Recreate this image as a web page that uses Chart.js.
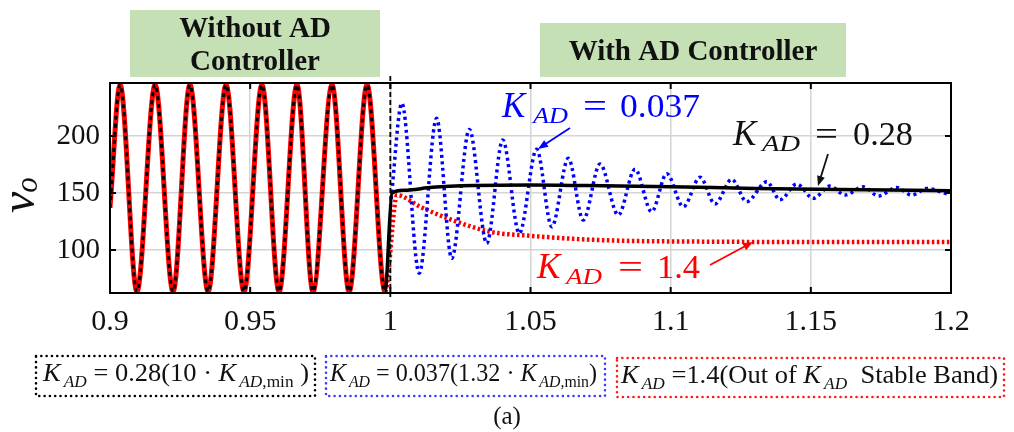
<!DOCTYPE html>
<html><head><meta charset="utf-8">
<script src="https://cdn.jsdelivr.net/npm/chart.js@4.4.1/dist/chart.umd.min.js"></script>
<style>html,body{margin:0;padding:0;background:#fff}canvas{display:block}</style>
</head><body>
<canvas id="c" width="1014" height="432"></canvas>
<script>
// ---------------- data ----------------
const xTicks = [0.9, 0.95, 1.0, 1.05, 1.1, 1.15, 1.2];
const xTickLabels = ['0.9', '0.95', '1', '1.05', '1.1', '1.15', '1.2'];
const yTicks = [100, 150, 200];
const yTickLabels = ['100', '150', '200'];
const switchTime = 1.0;

// common response before the AD controller is switched on (peaks / troughs)
const tPre = [0.9000, 0.9036, 0.9096, 0.9161, 0.9225, 0.9285, 0.9350, 0.9414, 0.9478, 0.9542, 0.9603, 0.9667, 0.9724, 0.9792, 0.9853, 0.9917, 0.9981];
const vPre = [137, 245, 63.5, 245, 63.5, 245, 63.5, 245, 63.5, 245, 63.5, 245, 63.5, 245, 63.5, 245, 63.5];

// K_AD = 0.28 (black)
const tBlackPost = [1.0006, 1.005, 1.015, 1.03, 1.05, 1.07, 1.1, 1.13, 1.16, 1.2];
const vBlackPost = [150, 152.5, 155, 156.5, 157, 156.5, 155.5, 154, 153, 152];

// K_AD = 1.4 (red)
const tRedPost = [1.0024, 1.0106, 1.0202, 1.0356, 1.0498, 1.0677, 1.085, 1.1033, 1.15, 1.2];
const vRedPost = [148, 138, 128, 116, 112.5, 109.5, 108, 107.5, 107, 107];

// K_AD = 0.037 (blue)
const tBluePost = [1.0003, 1.0041, 1.0103, 1.0165, 1.0219, 1.0282, 1.0344, 1.0401, 1.0460, 1.0522, 1.0576, 1.0635, 1.0688, 1.0748, 1.0813, 1.0873, 1.0932, 1.0986, 1.1045, 1.1105, 1.1158, 1.1218, 1.1271, 1.1343, 1.1390, 1.1450, 1.1509, 1.1568, 1.1622, 1.1687, 1.1741, 1.1806, 1.1860, 1.1913, 1.1990];
const vBluePost = [145, 228.7, 79.6, 215.5, 92.7, 205.8, 105.9, 196.5, 114.6, 188.3, 120.4, 180.4, 126.3, 175.4, 130.7, 170.8, 133.6, 167, 137.9, 163.8, 140.4, 162, 142.4, 159.9, 144, 157.9, 145.3, 156.1, 148.2, 155.5, 147.4, 154.9, 148.2, 153.9, 149];

const seriesNames = ['K_AD = 0.28', 'K_AD = 0.037', 'K_AD = 1.4'];
const seriesColors = ['#000000', '#0000ff', '#ff0000'];

// ---------------- helpers ----------------
const zip = (ts, vs) => ts.map((t, i) => ({ x: t, y: vs[i] }));
const FAM = '"Liberation Serif", "Times New Roman", serif';
function fnt(size, italic, bold) { return (bold ? 'bold ' : '') + (italic ? 'italic ' : '') + size + 'px ' + FAM; }

function piece(ctx, txt, x, y, size, italic, w, color, bold) {
  ctx.save();
  ctx.font = fnt(size, italic, bold);
  ctx.fillStyle = color;
  ctx.textBaseline = 'alphabetic';
  ctx.textAlign = 'left';
  const m = ctx.measureText(txt).width;
  ctx.translate(x, y);
  if (w) ctx.scale(w / m, 1);
  ctx.fillText(txt, 0, 0);
  ctx.restore();
}

// flowing rich text scaled to a target width
function rich(ctx, x, y, pieces, targetW, color) {
  ctx.save();
  ctx.fillStyle = color;
  ctx.textBaseline = 'alphabetic';
  ctx.textAlign = 'left';
  let total = 0;
  const ws = pieces.map(p => { ctx.font = fnt(p.s, p.i); const w = ctx.measureText(p.t).width; total += w + (p.g || 0); return w; });
  ctx.translate(x, y);
  ctx.scale(targetW / total, 1);
  let cx = 0;
  pieces.forEach((p, k) => { ctx.font = fnt(p.s, p.i); ctx.fillText(p.t, cx, p.dy || 0); cx += ws[k] + (p.g || 0); });
  ctx.restore();
}

function arrow(ctx, x1, y1, x2, y2, color) {
  const a = Math.atan2(y2 - y1, x2 - x1), L = 10, W = 4;
  ctx.save();
  ctx.strokeStyle = color; ctx.fillStyle = color; ctx.lineWidth = 1.8;
  ctx.beginPath(); ctx.moveTo(x1, y1);
  ctx.lineTo(x2 - L * 0.8 * Math.cos(a), y2 - L * 0.8 * Math.sin(a)); ctx.stroke();
  ctx.beginPath(); ctx.moveTo(x2, y2);
  ctx.lineTo(x2 - L * Math.cos(a) + W * Math.sin(a), y2 - L * Math.sin(a) - W * Math.cos(a));
  ctx.lineTo(x2 - L * Math.cos(a) - W * Math.sin(a), y2 - L * Math.sin(a) + W * Math.cos(a));
  ctx.closePath(); ctx.fill();
  ctx.restore();
}

function dottedBox(ctx, x1, y1, x2, y2, color) {
  ctx.save();
  ctx.strokeStyle = color; ctx.lineWidth = 2.6; ctx.lineCap = 'round';
  ctx.setLineDash([0.01, 5.3]);
  ctx.strokeRect(x1, y1, x2 - x1, y2 - y1);
  ctx.restore();
}

const decor = {
  id: 'decor',
  afterDatasetsDraw(chart) {
    const { ctx, chartArea: ca, scales: { x, y } } = chart;
    // switch-time dashed line
    const xs = x.getPixelForValue(switchTime);
    ctx.save();
    ctx.strokeStyle = '#000'; ctx.lineWidth = 1.8; ctx.setLineDash([5, 3]);
    ctx.beginPath(); ctx.moveTo(xs, ca.top - 7); ctx.lineTo(xs, ca.bottom + 5); ctx.stroke();
    ctx.restore();
    // frame
    ctx.save();
    ctx.strokeStyle = '#000'; ctx.lineWidth = 2;
    ctx.strokeRect(ca.left, ca.top, ca.right - ca.left, ca.bottom - ca.top);
    // inward ticks
    ctx.beginPath();
    xTicks.forEach(v => {
      const px = x.getPixelForValue(v);
      ctx.moveTo(px, ca.bottom); ctx.lineTo(px, ca.bottom - 6);
      ctx.moveTo(px, ca.top); ctx.lineTo(px, ca.top + 6);
    });
    yTicks.forEach(v => {
      const py = y.getPixelForValue(v);
      ctx.moveTo(ca.left, py); ctx.lineTo(ca.left + 6, py);
      ctx.moveTo(ca.right, py); ctx.lineTo(ca.right - 6, py);
    });
    ctx.stroke();
    ctx.restore();
  },
  afterDraw(chart) {
    const ctx = chart.ctx;
    // title boxes
    ctx.save();
    ctx.fillStyle = '#c5e0b4';
    ctx.fillRect(130, 10, 250, 67);
    ctx.fillRect(540, 23, 306, 54);
    ctx.fillStyle = '#111';
    ctx.font = fnt(29, false, true);
    ctx.textAlign = 'center'; ctx.textBaseline = 'alphabetic';
    ctx.fillText('Without AD', 255, 37);
    ctx.fillText('Controller', 255, 70);
    ctx.fillText('With AD Controller', 693, 60);
    ctx.restore();

    // y-axis label v_o (rotated)
    ctx.save();
    ctx.translate(34, 213);
    ctx.rotate(-Math.PI / 2);
    ctx.fillStyle = '#111';
    ctx.font = fnt(48, true);
    ctx.fillText('v', 0, 0);
    const vw = ctx.measureText('v').width;
    ctx.font = fnt(31, true);
    ctx.fillText('o', vw - 1, 3);
    ctx.restore();

    // in-plot labels
    const B = seriesColors[1], R = seriesColors[2], K = '#111';
    piece(ctx, 'K', 502, 117, 35, true, 0, B);
    piece(ctx, 'AD', 533, 123, 24, true, 35, B);
    piece(ctx, '=', 583, 117, 34, false, 24, B);
    piece(ctx, '0.037', 620, 117, 34, false, 80, B);
    arrow(ctx, 570, 128, 538, 149, B);

    piece(ctx, 'K', 733, 145, 35, true, 0, K);
    piece(ctx, 'AD', 762, 151, 24, true, 38, K);
    piece(ctx, '=', 815, 145, 34, false, 23, K);
    piece(ctx, '0.28', 853, 145, 34, false, 60, K);
    arrow(ctx, 828, 154, 818, 186, K);

    piece(ctx, 'K', 537, 278, 35, true, 0, R);
    piece(ctx, 'AD', 566, 284, 24, true, 36, R);
    piece(ctx, '=', 618, 278, 34, false, 25, R);
    piece(ctx, '1.4', 657, 278, 34, false, 43, R);
    arrow(ctx, 710, 265, 753, 242, R);

    // bottom legend boxes
    dottedBox(ctx, 36, 356, 315, 396, '#000');
    dottedBox(ctx, 326, 356, 605, 396, '#3b3bff');
    dottedBox(ctx, 617, 358, 1004, 397, '#ff1a1a');
    const s = 26, ss = 17, d = 6;
    rich(ctx, 43, 381, [
      { t: 'K', s: s, i: true, g: 3 }, { t: 'AD', s: ss, i: true, dy: d },
      { t: ' = 0.28(10 · ', s: s }, { t: 'K', s: s, i: true, g: 3 },
      { t: 'AD', s: ss, i: true, dy: d }, { t: ',min', s: ss, dy: d }, { t: ' )', s: s }
    ], 266, '#111');
    rich(ctx, 330, 381, [
      { t: 'K', s: s, i: true, g: 3 }, { t: 'AD', s: ss, i: true, dy: d },
      { t: ' = 0.037(1.32 · ', s: s }, { t: 'K', s: s, i: true, g: 3 },
      { t: 'AD', s: ss, i: true, dy: d }, { t: ',min', s: ss, dy: d }, { t: ')', s: s }
    ], 267, '#111');
    rich(ctx, 621, 383, [
      { t: 'K', s: s, i: true, g: 3 }, { t: 'AD', s: ss, i: true, dy: d },
      { t: ' =1.4(Out of ', s: s }, { t: 'K', s: s, i: true, g: 3 },
      { t: 'AD', s: ss, i: true, dy: d }, { t: '  Stable Band)', s: s }
    ], 377, '#111');
    ctx.save();
    ctx.fillStyle = '#111'; ctx.font = fnt(25); ctx.textAlign = 'center';
    ctx.fillText('(a)', 507, 424);
    ctx.restore();
  }
};

const dataBlack = zip(tPre, vPre).concat(zip(tBlackPost, vBlackPost));
const dataRed = zip(tPre, vPre).concat(zip(tRedPost, vRedPost));
const dataBlue = zip(tBluePost, vBluePost);

new Chart(document.getElementById('c'), {
  type: 'line',
  data: {
    datasets: [
      {
        label: seriesNames[0], data: dataBlack, borderColor: seriesColors[0], borderWidth: 3.5,
        pointRadius: 0, cubicInterpolationMode: 'monotone', clip: 0, borderCapStyle: 'butt',
        segment: {
          borderDash: c => (c.p1.parsed.x <= switchTime ? [4, 4] : []),
          borderWidth: c => (c.p1.parsed.x <= switchTime ? 3 : 3.5)
        }
      },
      {
        label: seriesNames[1], data: dataBlue, borderColor: seriesColors[1], borderWidth: 3.5,
        borderDash: [3, 3.5], pointRadius: 0, cubicInterpolationMode: 'monotone', clip: 0
      },
      {
        label: seriesNames[2], data: dataRed, borderColor: seriesColors[2], borderWidth: 5,
        pointRadius: 0, cubicInterpolationMode: 'monotone', clip: 0,
        segment: {
          borderDash: c => (c.p1.parsed.x <= switchTime ? [] : [2.5, 2.5]),
          borderWidth: c => (c.p1.parsed.x <= switchTime ? 5 : 4.5)
        }
      }
    ]
  },
  options: {
    responsive: false, animation: false, devicePixelRatio: 1,
    layout: { padding: { left: 0, top: 83, right: 63, bottom: 0 } },
    plugins: { legend: { display: false }, tooltip: { enabled: false } },
    scales: {
      x: {
        type: 'linear', min: 0.9, max: 1.2,
        afterBuildTicks: sc => { sc.ticks = xTicks.map(v => ({ value: v })); },
        afterFit: sc => { sc.height = 139; },
        ticks: {
          callback: (v) => { const k = xTicks.findIndex(t => Math.abs(t - v) < 1e-9); return k >= 0 ? xTickLabels[k] : ''; },
          font: { family: FAM, size: 30 }, color: '#111', padding: 11, maxRotation: 0, autoSkip: false
        },
        grid: { color: '#d4d4d4', lineWidth: 1.5, drawTicks: false },
        border: { display: false }
      },
      y: {
        type: 'linear', min: 62.3, max: 246.5,
        afterBuildTicks: sc => { sc.ticks = yTicks.map(v => ({ value: v })); },
        afterFit: sc => { sc.width = 110; },
        ticks: {
          callback: (v) => { const k = yTicks.indexOf(v); return k >= 0 ? yTickLabels[k] : ''; },
          font: { family: FAM, size: 29 }, color: '#111', padding: 10
        },
        grid: { color: '#d4d4d4', lineWidth: 1.5, drawTicks: false },
        border: { display: false }
      }
    }
  },
  plugins: [decor]
});
</script>
</body></html>
